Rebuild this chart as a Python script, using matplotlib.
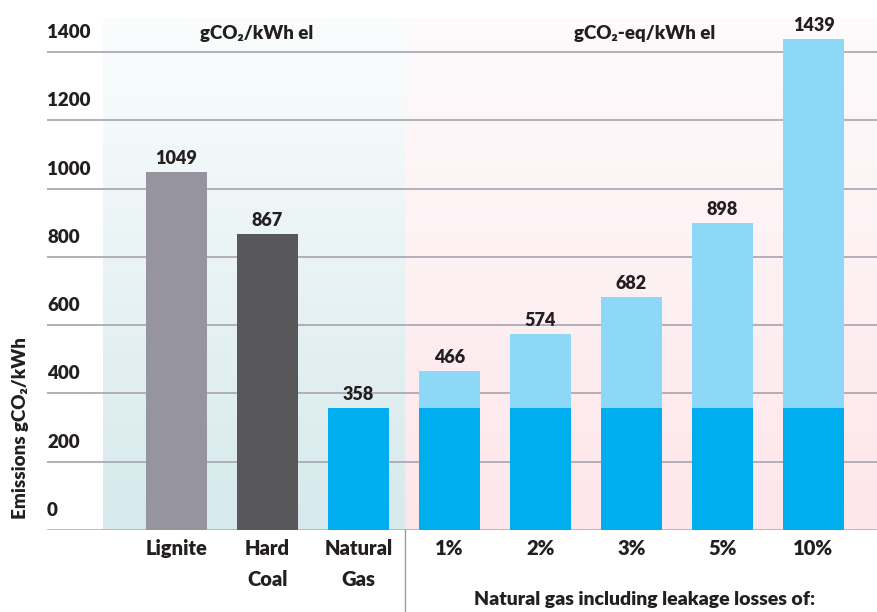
import numpy as np
import matplotlib.pyplot as plt
from matplotlib.colors import to_rgb

plt.rcParams['font.family'] = ['Lato', 'DejaVu Sans']

# data
categories = ["Lignite", "Hard\nCoal", "Natural\nGas", "1%", "2%", "3%", "5%", "10%"]
totals = [1049, 867, 358, 466, 574, 682, 898, 1439]
gas_base = 358
y_ticks = [0, 200, 400, 600, 800, 1000, 1200, 1400]

c_lignite = "#96959f"
c_coal = "#58585a"
c_gas = "#00aeef"
c_leak = "#8ed8f7"
c_text = "#231f20"
c_grid = "#ada9b6"
fw = 'heavy'

W, H = 877, 612
fig = plt.figure(figsize=(W / 100, H / 100), dpi=100)
px = 0.3415  # pixels per unit
ax_bot = 530
ymax = 1500
ax_top = ax_bot - ymax * px
x_left, x_right = 47, 877
x0, step = 176.5, 91.0
ax = fig.add_axes([x_left / W, 1 - ax_bot / H, (x_right - x_left) / W, (ax_bot - ax_top) / H])
ax.axis('off')


def gradient_bg(x_a, x_b, bottom, top):
    b = np.array(to_rgb(bottom))
    t = np.array(to_rgb(top))
    f = np.linspace(1, 0, 256)[:, None]
    img = (t * f + b * (1 - f))[:, None, :]
    ax.imshow(img, extent=[x_a, x_b, 0, ymax], aspect='auto', zorder=0,
              interpolation='bilinear')


sep = (404.5 - x0) / step
gradient_bg((103 - x0) / step, sep, "#d6e9ec", "#fbfdfd")
gradient_bg(sep, (x_right - x0) / step, "#fde6ea", "#fefbfc")
ax.set_xlim((x_left - x0) / step, (x_right - x0) / step)
ax.set_ylim(0, ymax)

# gridlines and tick labels
for v in y_ticks:
    ax.axhline(v, color=c_grid, lw=1.3 if v else 1.8, zorder=1)
    ax.annotate(str(v), xy=(0, v), xycoords=('axes fraction', 'data'),
                xytext=(0, 11), textcoords='offset pixels', ha='left', va='bottom',
                fontsize=13.5, color=c_text, fontweight=fw)

# bars
x = np.arange(len(categories))
w = 0.67
ax.bar(x[0], totals[0], w, color=c_lignite, zorder=2)
ax.bar(x[1], totals[1], w, color=c_coal, zorder=2)
ax.bar(x[2:], [gas_base] * 6, w, color=c_gas, zorder=2)
leak = [t - gas_base for t in totals[3:]]
ax.bar(x[3:], leak, w, bottom=gas_base, color=c_leak, zorder=2)

for xi, t in zip(x, totals):
    ax.annotate(str(t), xy=(xi, t), xytext=(0, 5), textcoords='offset pixels',
                ha='center', va='bottom', fontsize=13, color=c_text, fontweight=fw)

for xi, lab in zip(x, categories):
    ax.annotate(lab, xy=(xi, 0), xytext=(0, -9), textcoords='offset pixels',
                ha='center', va='top', fontsize=14.5, color=c_text, fontweight=fw,
                linespacing=1.75, annotation_clip=False)

# separator below the axis
ax.axvline(sep, ymin=-(H - ax_bot) / (ax_bot - ax_top), ymax=0, color="#9c99a3",
           lw=1, clip_on=False)

# section titles
fig.text(257 / W, 1 - 33 / H, "gCO₂/kWh el", ha='center', va='center',
         fontsize=13.5, color=c_text, fontweight=fw)
fig.text(645 / W, 1 - 33 / H, "gCO₂-eq/kWh el", ha='center', va='center',
         fontsize=13.5, color=c_text, fontweight=fw)
fig.text(645 / W, 1 - 600 / H, "Natural gas including leakage losses of:",
         ha='center', va='center', fontsize=14, color=c_text, fontweight=fw)
fig.text(21 / W, 1 - 428 / H, "Emissions gCO₂/kWh", rotation=90, ha='center',
         va='center', fontsize=13.5, color=c_text, fontweight=fw)

fig.savefig("out.png", dpi=100)
